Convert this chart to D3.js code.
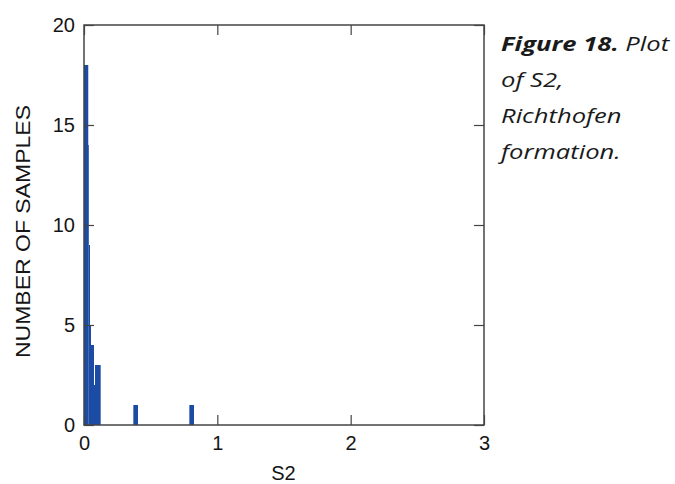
<!DOCTYPE html>
<html><head><meta charset="utf-8">
<script src="https://cdn.jsdelivr.net/npm/d3@7"></script>
<style>body{margin:0;background:#fff}svg{display:block}</style>
</head><body>
<script>
const binStart = [0, 0.032, 0.0375, 0.045, 0.0525, 0.075, 0.0825, 0.37, 0.79];
const binEnd   = [0.032, 0.0375, 0.045, 0.0525, 0.075, 0.0825, 0.125, 0.405, 0.825];
const counts   = [18, 14, 9, 5, 4, 2, 3, 1, 1];
const xTicks = [0, 1, 2, 3];
const yTicks = [0, 5, 10, 15, 20];
const captionLines = ["Plot", "of S2,", "Richthofen", "formation."];

const W = 675, H = 484;
const m = {left: 84, top: 25, right: 484, bottom: 425};
const svg = d3.select("body").append("svg").attr("width", W).attr("height", H);
const x = d3.scaleLinear().domain([0, 3]).range([m.left, m.right]);
const y = d3.scaleLinear().domain([0, 20]).range([m.bottom, m.top]);
const axisCol = "#444";
const txtCol = "#151515";

const data = counts.map((c, i) => ({s: binStart[i], e: binEnd[i], c}));
svg.append("g").selectAll("rect").data(data).join("rect")
  .attr("x", d => x(d.s)).attr("width", d => x(d.e) - x(d.s))
  .attr("y", d => y(d.c)).attr("height", d => y(0) - y(d.c))
  .attr("fill", "#1b4ba3");

const font = "'Liberation Sans', Arial, sans-serif";
function style(g) {
  g.selectAll(".domain").remove();
  g.selectAll("line").attr("stroke", axisCol).attr("stroke-width", 1.2);
  g.selectAll("text").attr("font-family", font).attr("font-size", 20).attr("fill", txtCol);
}
svg.append("g").attr("transform", `translate(0,${m.bottom})`)
  .call(d3.axisBottom(x).tickValues(xTicks).tickSize(-10).tickPadding(11).tickFormat(d3.format("d")))
  .call(style);
svg.append("g").attr("transform", `translate(0,${m.top})`)
  .call(d3.axisTop(x).tickValues(xTicks).tickSize(-10).tickFormat(""))
  .call(style);
svg.append("g").attr("transform", `translate(${m.left},0)`)
  .call(d3.axisLeft(y).tickValues(yTicks).tickSize(-10).tickPadding(9).tickFormat(d3.format("d")))
  .call(style);
svg.append("g").attr("transform", `translate(${m.right},0)`)
  .call(d3.axisRight(y).tickValues(yTicks).tickSize(-10).tickFormat(""))
  .call(style);

svg.append("rect").attr("x", m.left).attr("y", m.top)
  .attr("width", m.right - m.left).attr("height", m.bottom - m.top)
  .attr("fill", "none").attr("stroke", axisCol).attr("stroke-width", 1.5);

svg.append("text").attr("x", 283.5).attr("y", 480)
  .attr("text-anchor", "middle").attr("font-family", font).attr("font-size", 20)
  .attr("fill", txtCol).text("S2");
svg.append("text").attr("transform", `translate(30,231.5) rotate(-90)`)
  .attr("text-anchor", "middle").attr("font-family", font).attr("font-size", 20)
  .attr("textLength", 253).attr("lengthAdjust", "spacingAndGlyphs")
  .attr("fill", txtCol).text("NUMBER OF SAMPLES");

const cap = svg.append("g").attr("transform", "translate(501,0) scale(1.28,1)")
  .attr("font-family", "'Open Sans', 'Noto Sans', sans-serif")
  .attr("font-size", 20).attr("font-style", "italic").attr("fill", "#1a1a1a");
const t0 = cap.append("text").attr("x", 0).attr("y", 51);
t0.append("tspan").attr("font-weight", "bold").text("Figure 18.");
t0.append("tspan").text(" " + captionLines[0]);
captionLines.slice(1).forEach((l, i) => {
  cap.append("text").attr("x", 0).attr("y", 51 + 36 * (i + 1)).text(l);
});
</script>
</body></html>
